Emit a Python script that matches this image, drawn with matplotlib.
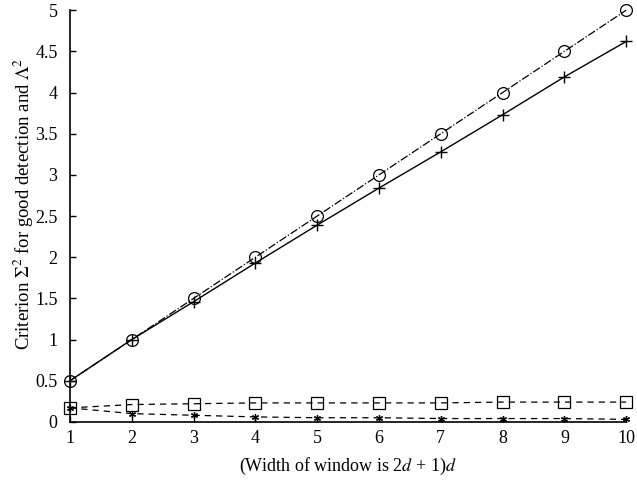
import matplotlib
matplotlib.use('Agg')
import matplotlib.pyplot as plt

# window half-width d
d = [1, 2, 3, 4, 5, 6, 7, 8, 9, 10]

# curves
sigma_plus = [0.50, 1.00, 1.46, 1.93, 2.39, 2.84, 3.28, 3.73, 4.19, 4.62]
sigma_circle = [0.50, 1.00, 1.50, 2.00, 2.50, 3.00, 3.50, 4.00, 4.50, 5.00]
lambda_square = [0.17, 0.21, 0.22, 0.23, 0.23, 0.23, 0.23, 0.24, 0.24, 0.24]
lambda_star = [0.17, 0.10, 0.08, 0.06, 0.05, 0.05, 0.04, 0.04, 0.04, 0.03]

x_ticks = d
y_ticks = [0, 0.5, 1, 1.5, 2, 2.5, 3, 3.5, 4, 4.5, 5]
y_labels = ['0', '0.5', '1', '1.5', '2', '2.5', '3', '3.5', '4', '4.5', '5']

plt.rcParams['font.family'] = ['Liberation Serif', 'DejaVu Serif']
plt.rcParams['mathtext.fontset'] = 'stix'

fig = plt.figure(figsize=(6.37, 4.86), dpi=100)
ax = fig.add_axes([0.110, 0.132, 0.873, 0.847])

ax.plot(d, sigma_plus, color='black', linestyle='-', linewidth=1.0,
        marker='+', markersize=8, markeredgewidth=1.0, clip_on=False)
ax.plot(d, sigma_circle, color='black', linestyle='-.', linewidth=0.9,
        marker='o', markersize=8.5, markerfacecolor='none', markeredgewidth=0.9,
        clip_on=False)
ax.plot(d, lambda_square, color='black', linestyle=(0, (5, 4)), linewidth=0.9,
        marker='s', markersize=8, markerfacecolor='none', markeredgewidth=0.9,
        clip_on=False)
ax.plot(d, lambda_star, color='black', linestyle=(0, (5, 4)), linewidth=0.9,
        marker=(6, 2, 0), markersize=5, markeredgewidth=0.9, clip_on=False)

ax.set_xlim(1, 10)
ax.set_ylim(0, 5)
ax.set_xticks(x_ticks)
ax.set_yticks(y_ticks)
ax.set_yticklabels(y_labels)

ax.spines['top'].set_visible(False)
ax.spines['right'].set_visible(False)
ax.spines['left'].set_linewidth(1.2)
ax.spines['bottom'].set_linewidth(1.2)
ax.tick_params(direction='in', length=4, width=1, labelsize=13, colors='black')
ax.tick_params(axis='y', pad=9)
ax.tick_params(axis='x', pad=6)

ax.set_xlabel(r'(Width of window is 2$d$ + 1)$d$', fontsize=13, labelpad=6)
ax.set_ylabel(r'Criterion $\Sigma^2$ for good detection and $\Lambda^2$', fontsize=13.5)
ax.yaxis.set_label_coords(-0.062, 0.53)

plt.savefig('out.png', dpi=100)
plt.close()
